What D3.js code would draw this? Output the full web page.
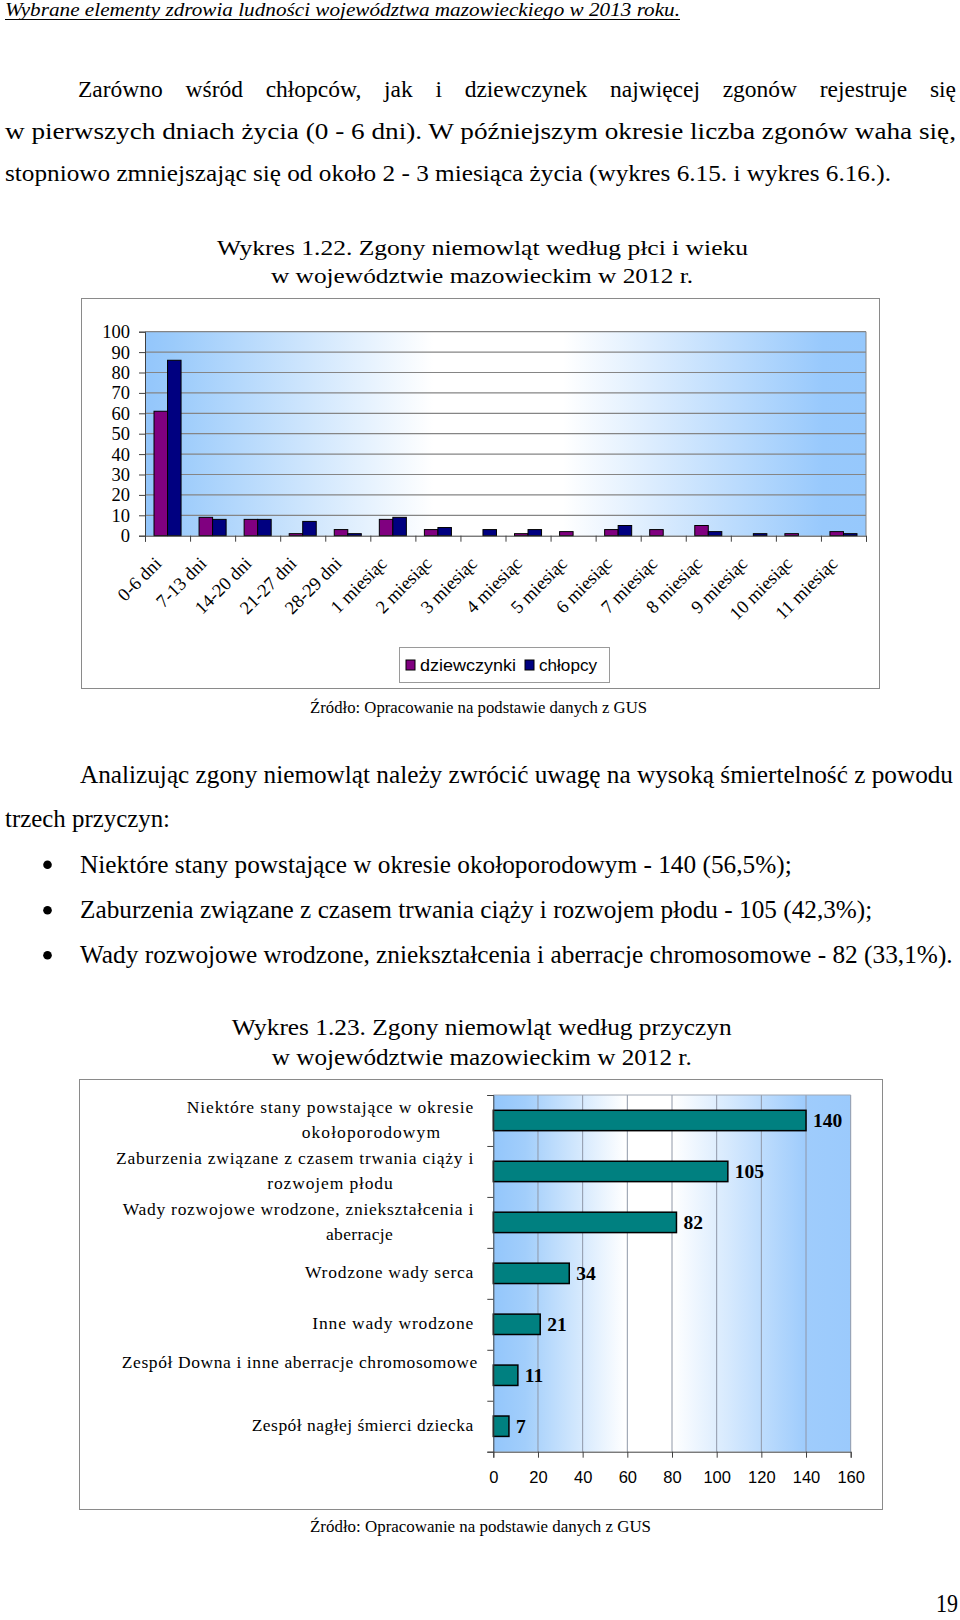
<!DOCTYPE html>
<html>
<head>
<meta charset="utf-8">
<script src="https://cdn.jsdelivr.net/npm/d3@7"></script>
<style>
body { margin: 0; background: #fff; }
text { font-family: "Liberation Serif", "Times New Roman", serif; fill: #000; }
.sans text, text.sans { font-family: "Liberation Sans", Arial, sans-serif; }
</style>
</head>
<body>
<div id="page"></div>
<script>
// Data
//-------------------------------------------------------
var ageGroups = ["0-6 dni", "7-13 dni", "14-20 dni", "21-27 dni", "28-29 dni",
    "1 miesiąc", "2 miesiąc", "3 miesiąc", "4 miesiąc", "5 miesiąc", "6 miesiąc",
    "7 miesiąc", "8 miesiąc", "9 miesiąc", "10 miesiąc", "11 miesiąc"];
var girls = [61, 9, 8, 1, 3, 8, 3, 0, 1, 2, 3, 3, 5, 0, 1, 2];
var boys = [86, 8, 8, 7, 1, 9, 4, 3, 3, 0, 5, 0, 2, 1, 0, 1];
var seriesNames = ["dziewczynki", "chłopcy"];
var yTicks1 = [0, 10, 20, 30, 40, 50, 60, 70, 80, 90, 100];

var causes = ["Niektóre stany powstające w okresie okołoporodowym",
    "Zaburzenia związane z czasem trwania ciąży i rozwojem płodu",
    "Wady rozwojowe wrodzone, zniekształcenia i aberracje",
    "Wrodzone wady serca",
    "Inne wady wrodzone",
    "Zespół Downa i inne aberracje chromosomowe",
    "Zespół nagłej śmierci dziecka"];
var causeLines = [["Niektóre stany powstające  w okresie", "okołoporodowym"],
    ["Zaburzenia związane z czasem  trwania ciąży i", "rozwojem płodu"],
    ["Wady rozwojowe wrodzone, zniekształcenia i", "aberracje"],
    ["Wrodzone wady serca"],
    ["Inne wady wrodzone"],
    ["Zespół Downa i inne aberracje chromosomowe", ""],
    ["Zespół nagłej śmierci dziecka"]];
var causeValues = [140, 105, 82, 34, 21, 11, 7];
var xTicks2 = [0, 20, 40, 60, 80, 100, 120, 140, 160];

// Page
//-------------------------------------------------------
var svg = d3.select("#page").append("svg")
    .attr("width", 960)
    .attr("height", 1620);

svg.append("rect").attr("width", 960).attr("height", 1620).attr("fill", "#fff");

var defs = svg.append("defs");

function gradient(id, stops) {
    var g = defs.append("linearGradient").attr("id", id)
        .attr("x1", "0%").attr("x2", "100%").attr("y1", "0%").attr("y2", "0%");
    stops.forEach(function(s) {
        g.append("stop").attr("offset", s[0]).attr("stop-color", s[1]);
    });
}
gradient("bg1", [["0%", "#93c6fb"], ["4%", "#9bcbfb"], ["40%", "#ffffff"], ["58%", "#ffffff"], ["94%", "#98c9fc"], ["100%", "#96c8fc"]]);
gradient("bg2", [["0%", "#93c6fb"], ["9%", "#a2cefb"], ["37%", "#ffffff"], ["50%", "#ffffff"], ["87%", "#9fccfc"], ["100%", "#9bcafc"]]);

// text helpers
function fitText(str, x0, x1, y, size, opts) {
    opts = opts || {};
    var t = svg.append("text")
        .attr("x", x0)
        .attr("y", y)
        .attr("font-size", size)
        .attr("textLength", x1 - x0)
        .attr("lengthAdjust", opts.adjust || "spacingAndGlyphs")
        .text(str);
    if (opts.italic) t.attr("font-style", "italic");
    if (opts.bold) t.attr("font-weight", "bold");
    return t;
}

function justifyLine(str, x0, x1, y, size) {
    var words = str.split(" ");
    var g = svg.append("g");
    var els = words.map(function(w) {
        return g.append("text").attr("y", y).attr("font-size", size).text(w);
    });
    var widths = els.map(function(e) { return e.node().getComputedTextLength(); });
    var gap = (x1 - x0 - d3.sum(widths)) / (words.length - 1);
    var x = x0;
    els.forEach(function(e, i) {
        e.attr("x", x);
        x += widths[i] + gap;
    });
}

// Header and first paragraph
//-------------------------------------------------------
fitText("Wybrane elementy zdrowia ludności województwa mazowieckiego w 2013 roku.", 5, 680, 16, 18, {italic: true});
svg.append("line").attr("x1", 5).attr("x2", 680).attr("y1", 19.5).attr("y2", 19.5)
    .attr("stroke", "#000").attr("stroke-width", 1);

justifyLine("Zarówno wśród chłopców, jak i dziewczynek najwięcej zgonów rejestruje się", 78, 956, 97, 23.5);
fitText("w pierwszych dniach życia (0 - 6 dni). W późniejszym okresie liczba zgonów waha się,", 5, 956, 139, 23.5);
fitText("stopniowo zmniejszając się od około 2 - 3 miesiąca życia (wykres 6.15. i wykres 6.16.).", 5, 891, 181, 23.5);

fitText("Wykres 1.22. Zgony niemowląt według  płci i wieku", 217, 748, 255, 21.5);
fitText("w województwie mazowieckim w 2012 r.", 271, 693, 283, 21.5);

// Chart 1: deaths by sex and age
//-------------------------------------------------------
svg.append("rect").attr("x", 81.5).attr("y", 298.5).attr("width", 798).attr("height", 390)
    .attr("fill", "#fff").attr("stroke", "#8a8a8a");

var plot1 = {left: 145, right: 866, top: 331.7, bottom: 535.7};

var x0 = d3.scaleBand().domain(ageGroups).range([plot1.left, plot1.right]);
var x1 = d3.scaleBand().domain([0, 1]).range([x0.bandwidth() * 0.2, x0.bandwidth() * 0.8]);
var y1 = d3.scaleLinear().domain([0, 100]).range([plot1.bottom, plot1.top]);

svg.append("rect")
    .attr("x", plot1.left).attr("y", plot1.top)
    .attr("width", plot1.right - plot1.left).attr("height", plot1.bottom - plot1.top)
    .attr("fill", "url(#bg1)");

svg.append("g").selectAll("line").data(yTicks1.slice(1)).enter().append("line")
    .attr("x1", plot1.left).attr("x2", plot1.right)
    .attr("y1", d => y1(d)).attr("y2", d => y1(d))
    .attr("stroke", "#858585").attr("stroke-width", 1.2);

svg.append("line").attr("x1", plot1.right).attr("x2", plot1.right)
    .attr("y1", plot1.top).attr("y2", plot1.bottom).attr("stroke", "#858585");

var series1 = [girls, boys];
var colors1 = ["#800080", "#000080"];
series1.forEach(function(vals, s) {
    var data = vals.map((v, i) => ({cat: ageGroups[i], v: v})).filter(d => d.v > 0);
    svg.append("g").selectAll("rect").data(data).enter().append("rect")
        .attr("x", d => x0(d.cat) + x1(s))
        .attr("y", d => y1(d.v))
        .attr("width", x1.bandwidth())
        .attr("height", d => y1(0) - y1(d.v))
        .attr("fill", colors1[s])
        .attr("stroke", "#000").attr("stroke-width", 1);
});

// y axis
var yAxis1 = svg.append("g")
    .attr("transform", `translate(${plot1.left},0)`)
    .call(d3.axisLeft(y1).tickValues(yTicks1).tickSize(6).tickPadding(9));
yAxis1.select(".domain").attr("stroke", "#404040");
yAxis1.selectAll(".tick line").attr("stroke", "#404040");
yAxis1.selectAll("text").attr("font-size", 18.5);

// x axis: boundary ticks
var bounds1 = d3.scaleLinear().domain([0, ageGroups.length]).range([plot1.left, plot1.right]);
var xAxisTicks = svg.append("g")
    .attr("transform", `translate(0,${plot1.bottom})`)
    .call(d3.axisBottom(bounds1).tickValues(d3.range(ageGroups.length + 1)).tickSize(6).tickFormat(""));
xAxisTicks.select(".domain").attr("stroke", "#404040");
xAxisTicks.selectAll(".tick line").attr("stroke", "#404040");

// x axis: category labels
var xAxisLabels = svg.append("g")
    .attr("transform", `translate(0,${plot1.bottom})`)
    .call(d3.axisBottom(x0).tickSize(0));
xAxisLabels.select(".domain").remove();
xAxisLabels.selectAll("text")
    .attr("font-size", 18.5)
    .attr("text-anchor", "end")
    .attr("x", -5).attr("y", 29).attr("dy", null)
    .attr("transform", "rotate(-45,-5,29)");

// legend
var legend = svg.append("g").attr("class", "sans");
legend.append("rect").attr("x", 399.5).attr("y", 647.5).attr("width", 210).attr("height", 35)
    .attr("fill", "#fff").attr("stroke", "#9a9a9a");
var legendX = [406, 525];
var legendTextW = [96, 58];
seriesNames.forEach(function(name, s) {
    legend.append("rect").attr("x", legendX[s]).attr("y", 660).attr("width", 9).attr("height", 10)
        .attr("fill", colors1[s]).attr("stroke", "#000");
    legend.append("text").attr("x", legendX[s] + 14).attr("y", 671).attr("font-size", 17)
        .attr("textLength", legendTextW[s]).attr("lengthAdjust", "spacingAndGlyphs")
        .text(name);
});

fitText("Źródło: Opracowanie na podstawie danych z GUS", 310, 647, 713, 17);

// Second paragraph and bullets
//-------------------------------------------------------
fitText("Analizując zgony niemowląt należy zwrócić uwagę na wysoką śmiertelność z powodu", 80, 953, 783, 24.5);
fitText("trzech przyczyn:", 5, 170, 827, 24.5);

var bullets = ["Niektóre stany powstające w okresie okołoporodowym - 140 (56,5%);",
    "Zaburzenia związane z czasem trwania ciąży i rozwojem płodu - 105 (42,3%);",
    "Wady rozwojowe wrodzone, zniekształcenia i aberracje chromosomowe - 82 (33,1%)."];
var bulletEnds = [791.7, 872.3, 952.7];
var bulletY = [872.7, 918.3, 963.3];
bullets.forEach(function(b, i) {
    svg.append("circle").attr("cx", 47.5).attr("cy", bulletY[i] - 8).attr("r", 4.3).attr("fill", "#000");
    fitText(b, 80, bulletEnds[i], bulletY[i], 24.5);
});

fitText("Wykres 1.23. Zgony niemowląt według przyczyn", 231.7, 731.7, 1035, 23.5);
fitText("w województwie mazowieckim w 2012 r.", 271.7, 691.7, 1065, 23.5);

// Chart 2: deaths by cause
//-------------------------------------------------------
svg.append("rect").attr("x", 79.5).attr("y", 1079.5).attr("width", 803).attr("height", 430)
    .attr("fill", "#fff").attr("stroke", "#8a8a8a");

var plot2 = {left: 493.3, right: 850.7, top: 1095, bottom: 1451.7};

var x2 = d3.scaleLinear().domain([0, 160]).range([plot2.left, plot2.right]);
var y2 = d3.scaleBand().domain(causes).range([plot2.top, plot2.bottom])
    .paddingInner(0.6).paddingOuter(0.3);

svg.append("rect")
    .attr("x", plot2.left).attr("y", plot2.top)
    .attr("width", plot2.right - plot2.left).attr("height", plot2.bottom - plot2.top)
    .attr("fill", "url(#bg2)");

svg.append("g").selectAll("line").data(xTicks2.slice(1)).enter().append("line")
    .attr("x1", d => x2(d)).attr("x2", d => x2(d))
    .attr("y1", plot2.top).attr("y2", plot2.bottom)
    .attr("stroke", "#8f98a8").attr("stroke-width", 1);

svg.append("line").attr("x1", plot2.left).attr("x2", plot2.right)
    .attr("y1", plot2.top).attr("y2", plot2.top).attr("stroke", "#a0a8b4");

svg.append("g").selectAll("rect").data(causeValues).enter().append("rect")
    .attr("x", x2(0))
    .attr("y", (d, i) => y2(causes[i]))
    .attr("width", d => x2(d) - x2(0))
    .attr("height", y2.bandwidth())
    .attr("fill", "#008080")
    .attr("stroke", "#000").attr("stroke-width", 1.5);

svg.append("g").selectAll("text").data(causeValues).enter().append("text")
    .attr("x", d => x2(d) + 7)
    .attr("y", (d, i) => y2(causes[i]) + y2.bandwidth() / 2 + 6.5)
    .attr("font-size", 19.5)
    .attr("font-weight", "bold")
    .text(d => d);

var xAxis2 = svg.append("g")
    .attr("class", "sans")
    .attr("transform", `translate(0,${plot2.bottom})`)
    .call(d3.axisBottom(x2).tickValues(xTicks2).tickSize(6).tickPadding(14));
xAxis2.select(".domain").attr("stroke", "#404040");
xAxis2.selectAll(".tick line").attr("stroke", "#404040");
xAxis2.selectAll("text").attr("font-size", 16.5);

var bounds2 = d3.scaleLinear().domain([0, causes.length]).range([plot2.top, plot2.bottom]);
var yAxis2 = svg.append("g")
    .attr("transform", `translate(${plot2.left},0)`)
    .call(d3.axisLeft(bounds2).tickValues(d3.range(causes.length + 1)).tickSize(6).tickFormat(""));
yAxis2.select(".domain").attr("stroke", "#404040");
yAxis2.selectAll(".tick line").attr("stroke", "#404040");

// category labels, wrapped like the original
var labelSpans = [[[186.7, 473.3], [301.7, 440]],
    [[116, 473.3], [267.3, 392.7]],
    [[122.7, 473.3], [326, 392.7]],
    [[305, 473.3]],
    [[312.3, 473.3]],
    [[121.7, 477.3], null],
    [[251.7, 473.3]]];
causeLines.forEach(function(lines, i) {
    var cy = y2(causes[i]) + y2.bandwidth() / 2;
    lines.forEach(function(line, j) {
        if (!line) return;
        var span = labelSpans[i][j];
        var by = cy + (j - (lines.length - 1) / 2) * 25 + 5;
        fitText(line, span[0], span[1], by, 17.5, {adjust: "spacing"});
    });
});

fitText("Źródło: Opracowanie na podstawie danych z GUS", 310, 651, 1532, 17);

fitText("19", 936, 958, 1612, 25);
</script>
</body>
</html>
